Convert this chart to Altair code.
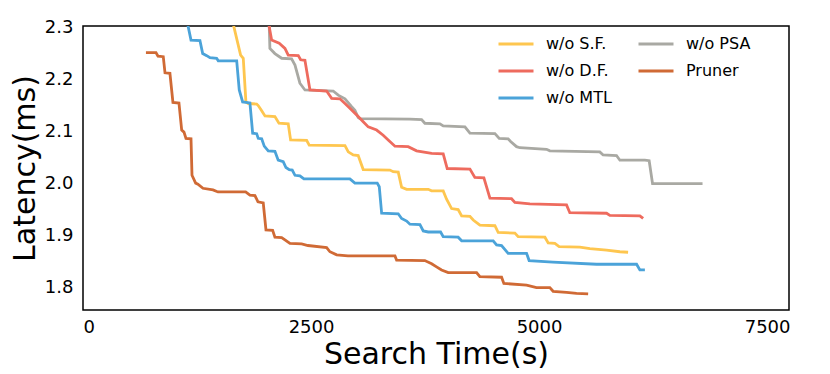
import altair as alt
import pandas as pd

series_names = ["w/o S.F.", "w/o D.F.", "w/o MTL", "w/o PSA", "Pruner"]
series_colors = ["#FEC64F", "#EE6B5E", "#4BA3D9", "#A9A9A3", "#D06A35"]

sf_time = [1633, 1655, 1728, 1757, 1786, 1812, 1904, 1921, 1959, 1995, 2104, 2148, 2250, 2276, 2452, 2480,
           2872, 2908, 2962, 3017, 3072, 3365, 3401, 3456, 3493, 3548, 3785, 3822, 3949, 3986, 4041, 4113,
           4151, 4242, 4278, 4351, 4516, 4552, 4735, 4771, 5064, 5100, 5173, 5220, 5447, 5557, 5740, 5886, 5976]
sf_lat = [2.315, 2.300, 2.246, 2.240, 2.156, 2.153, 2.152, 2.149, 2.139, 2.129, 2.128, 2.115, 2.114, 2.083, 2.082, 2.073,
          2.072, 2.060, 2.054, 2.053, 2.026, 2.025, 2.022, 2.021, 1.992, 1.988, 1.988, 1.985, 1.985, 1.969, 1.951, 1.949,
          1.937, 1.936, 1.929, 1.919, 1.918, 1.905, 1.904, 1.897, 1.896, 1.885, 1.884, 1.878, 1.877, 1.874, 1.871, 1.868, 1.867]

psa_time = [2039, 2042, 2049, 2104, 2178, 2287, 2324, 2378, 2433, 2743, 2798, 2872, 2945, 2981, 3017, 3036,
            3584, 3712, 3748, 3913, 3949, 4187, 4242, 4516, 4563, 4661, 4688, 4753, 4789, 5082, 5118, 5666,
            5702, 5849, 5886, 6160, 6207, 6244, 6792]
psa_lat = [2.330, 2.300, 2.259, 2.249, 2.240, 2.239, 2.227, 2.192, 2.179, 2.177, 2.169, 2.162, 2.147, 2.140, 2.126, 2.124,
           2.123, 2.122, 2.115, 2.114, 2.110, 2.108, 2.096, 2.095, 2.086, 2.085, 2.080, 2.070, 2.068, 2.065, 2.062, 2.060,
           2.054, 2.053, 2.044, 2.044, 2.043, 1.999, 1.999]

df_time = [2033, 2042, 2068, 2151, 2214, 2250, 2360, 2386, 2433, 2488, 2671, 2726, 2817, 2872, 2926, 3017,
           3072, 3127, 3219, 3291, 3346, 3420, 3565, 3657, 3822, 3949, 3993, 4242, 4296, 4395, 4461, 4698,
           4735, 4899, 5301, 5337, 5740, 5776, 6105, 6141]
df_lat = [2.320, 2.300, 2.275, 2.269, 2.259, 2.246, 2.245, 2.237, 2.236, 2.179, 2.177, 2.163, 2.162, 2.153, 2.144, 2.128,
          2.118, 2.108, 2.102, 2.092, 2.083, 2.071, 2.070, 2.062, 2.057, 2.056, 2.028, 2.027, 2.011, 2.010, 1.971, 1.970,
          1.963, 1.960, 1.958, 1.943, 1.942, 1.938, 1.937, 1.932]

pruner_time = [690, 800, 822, 880, 899, 953, 986, 1052, 1082, 1107, 1129, 1184, 1195, 1235, 1260, 1315,
               1425, 1480, 1783, 1830, 1885, 1918, 1976, 2006, 2079, 2104, 2178, 2269, 2397, 2466, 2671, 2707,
               2781, 2904, 3420, 3438, 3748, 3822, 3876, 3931, 4004, 4315, 4351, 4589, 4614, 4863, 4972, 5118,
               5154, 5301, 5411, 5538]
pruner_lat = [2.251, 2.251, 2.244, 2.243, 2.212, 2.211, 2.155, 2.154, 2.102, 2.098, 2.086, 2.085, 2.015, 2.000, 1.998, 1.990,
              1.987, 1.983, 1.983, 1.977, 1.976, 1.964, 1.962, 1.910, 1.909, 1.896, 1.895, 1.884, 1.883, 1.880, 1.876, 1.868,
              1.862, 1.860, 1.860, 1.852, 1.851, 1.845, 1.839, 1.833, 1.828, 1.828, 1.820, 1.819, 1.807, 1.804, 1.799, 1.799,
              1.792, 1.790, 1.788, 1.787]

mtl_time = [1129, 1154, 1184, 1282, 1312, 1356, 1392, 1465, 1483, 1685, 1713, 1750, 1830, 1860, 1904, 1921,
            1959, 1987, 2031, 2104, 2140, 2195, 2225, 2261, 2294, 2324, 2378, 2422, 2926, 2981, 3226, 3248,
            3274, 3456, 3493, 3548, 3584, 3694, 3730, 3785, 3920, 3949, 4113, 4151, 4497, 4534, 4589, 4661,
            4863, 4891, 5151, 5630, 6069, 6105, 6160]
mtl_lat = [2.320, 2.300, 2.275, 2.274, 2.249, 2.245, 2.241, 2.240, 2.235, 2.235, 2.179, 2.156, 2.154, 2.096, 2.095, 2.086,
           2.085, 2.071, 2.062, 2.061, 2.044, 2.041, 2.030, 2.026, 2.025, 2.015, 2.014, 2.008, 2.008, 2.000, 2.000, 1.993,
           1.942, 1.941, 1.932, 1.927, 1.921, 1.920, 1.908, 1.906, 1.906, 1.897, 1.896, 1.889, 1.889, 1.881, 1.880, 1.865,
           1.865, 1.851, 1.848, 1.844, 1.844, 1.833, 1.833]

x_ticks = [0, 2500, 5000, 7500]
y_ticks = [1.8, 1.9, 2.0, 2.1, 2.2, 2.3]

rows = []
for name, ts, ls in [("w/o S.F.", sf_time, sf_lat), ("w/o PSA", psa_time, psa_lat),
                     ("w/o D.F.", df_time, df_lat), ("Pruner", pruner_time, pruner_lat),
                     ("w/o MTL", mtl_time, mtl_lat)]:
    for i, (t, l) in enumerate(zip(ts, ls)):
        rows.append({"series": name, "time": t, "latency": l, "idx": i})
data = pd.DataFrame(rows)

chart = alt.Chart(data).mark_line(clip=True, strokeWidth=2.8).encode(
    x=alt.X("time:Q", title="Search Time(s)",
            scale=alt.Scale(domain=[0, 7740], nice=False, zero=False),
            axis=alt.Axis(values=x_ticks, format="d", grid=False, domain=False, ticks=False,
                          labelFontSize=18, labelPadding=8, titleFontSize=30,
                          titleFontWeight="normal", titleBaseline="alphabetic", titleY=53)),
    y=alt.Y("latency:Q", title="Latency(ms)",
            scale=alt.Scale(domain=[1.756, 2.302], nice=False, zero=False),
            axis=alt.Axis(values=y_ticks, format=".1f", grid=False, domain=False, ticks=False,
                          labelFontSize=18, labelPadding=10, titleFontSize=30,
                          titleFontWeight="normal", titleBaseline="alphabetic",
                          titleX=-49, titleY=142, titleAngle=-90)),
    color=alt.Color("series:N",
                    scale=alt.Scale(domain=series_names, range=series_colors),
                    legend=alt.Legend(title=None, orient="none", legendX=414, legendY=-1,
                                      columns=2, symbolType="stroke", symbolSize=1225,
                                      symbolStrokeWidth=3, labelFontSize=16, columnPadding=20,
                                      rowPadding=-5, padding=0, labelOffset=11)),
    order="idx:Q",
).properties(
    width=706, height=284,
    padding={"left": 75, "top": 18, "right": 25, "bottom": 60},
    autosize=alt.AutoSizeParams(type="none"),
).configure(font="DejaVu Sans").configure_view(
    stroke="black", strokeWidth=1.5
).configure_axis(labelColor="black", titleColor="black", labelFont="DejaVu Sans", titleFont="DejaVu Sans"
).configure_legend(labelColor="black", labelFont="DejaVu Sans")

chart.save("out.html", embed_options={"renderer": "svg", "actions": False})
